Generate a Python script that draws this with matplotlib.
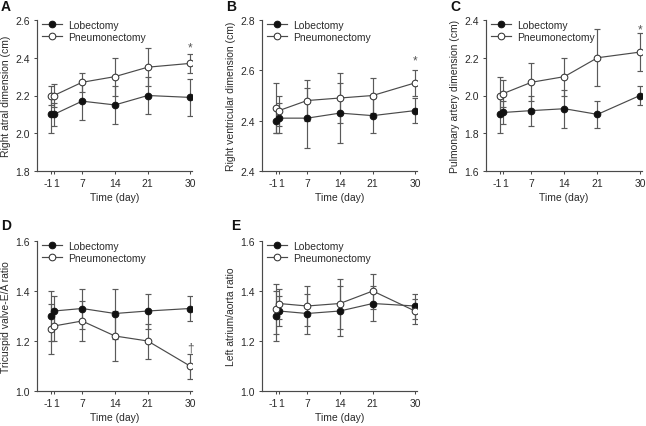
import numpy as np
import matplotlib
matplotlib.use("Agg")
import matplotlib.pyplot as plt
from matplotlib.transforms import ScaledTranslation

plt.rcParams["font.family"] = ["Liberation Sans", "DejaVu Sans"]
plt.rcParams["font.size"] = 7.5

days = [-1, 1, 7, 14, 21, 30]
day_labels = ["-1", "1", "7", "14", "21", "30"]

# A: right atrial dimension (cm)
ra_lob = [2.10, 2.10, 2.17, 2.15, 2.20, 2.19]
ra_lob_err = [0.10, 0.06, 0.10, 0.10, 0.10, 0.10]
ra_pn = [2.20, 2.20, 2.27, 2.30, 2.35, 2.37]
ra_pn_err = [0.05, 0.06, 0.05, 0.10, 0.10, 0.05]

# B: right ventricular dimension (cm)
rv_lob = [2.40, 2.41, 2.41, 2.43, 2.42, 2.44]
rv_lob_err = [0.05, 0.06, 0.12, 0.12, 0.07, 0.05]
rv_pn = [2.45, 2.44, 2.48, 2.49, 2.50, 2.55]
rv_pn_err = [0.10, 0.06, 0.08, 0.10, 0.07, 0.05]

# C: pulmonary artery dimension (cm)
pa_lob = [1.90, 1.91, 1.92, 1.93, 1.90, 2.00]
pa_lob_err = [0.10, 0.06, 0.08, 0.10, 0.07, 0.05]
pa_pn = [2.00, 2.01, 2.07, 2.10, 2.20, 2.23]
pa_pn_err = [0.10, 0.07, 0.10, 0.10, 0.15, 0.10]

# D: tricuspid valve E/A ratio
ea_lob = [1.30, 1.32, 1.33, 1.31, 1.32, 1.33]
ea_lob_err = [0.10, 0.06, 0.08, 0.10, 0.07, 0.05]
ea_pn = [1.25, 1.26, 1.28, 1.22, 1.20, 1.10]
ea_pn_err = [0.10, 0.06, 0.08, 0.10, 0.07, 0.05]

# E: left atrium/aorta ratio
la_lob = [1.30, 1.32, 1.31, 1.32, 1.35, 1.34]
la_lob_err = [0.10, 0.06, 0.08, 0.10, 0.07, 0.05]
la_pn = [1.33, 1.35, 1.34, 1.35, 1.40, 1.32]
la_pn_err = [0.10, 0.06, 0.08, 0.10, 0.07, 0.05]

text_color = "#2a2a2a"
line_color = "#4a4a4a"
err_color = "#5a5a5a"


# the original axis squeezes the pre-operative part (day < 1)
def squeeze(x):
    x = np.asarray(x, dtype=float)
    return np.where(x < 1, 1 + (x - 1) * 0.32, x)


def unsqueeze(y):
    y = np.asarray(y, dtype=float)
    return np.where(y < 1, 1 + (y - 1) / 0.32, y)


fig = plt.figure(figsize=(6.46, 4.27), dpi=100)
W, H = 646, 427


def axes_at(left, top, width, height):
    return fig.add_axes([left / W, (H - top - height) / H, width / W, height / H])


def panel(ax, ylabel, lob, lob_err, pn, pn_err, ylim, yticks, ytick_labels,
          mark=None, mark_y=None):
    ax.set_xscale("function", functions=(squeeze, unsqueeze))
    ax.errorbar(days, lob, yerr=lob_err, fmt="none", ecolor=err_color,
                elinewidth=0.85, capsize=2.3, capthick=0.85, zorder=1)
    ax.errorbar(days, pn, yerr=pn_err, fmt="none", ecolor=err_color,
                elinewidth=0.85, capsize=2.3, capthick=0.85, zorder=1)
    ax.plot(days, lob, "-o", color=line_color, lw=0.85, ms=4.8,
            mfc="#111111", mec="#111111", mew=0.7, label="Lobectomy", zorder=3)
    ax.plot(days, pn, "-o", color=line_color, lw=0.85, ms=4.8,
            mfc="white", mec="#333333", mew=0.75, label="Pneumonectomy", zorder=4)
    if mark:
        ax.text(30, mark_y, mark, ha="center", va="center", color="#555555",
                fontsize=8.5)

    ax.set_xlim(-10.3, 30.43)
    ax.set_ylim(*ylim)
    ax.set_xticks(days)
    ax.set_xticklabels(day_labels)
    ax.minorticks_off()
    ax.set_yticks(yticks)
    ax.set_yticklabels(ytick_labels)
    for side in ("top", "right"):
        ax.spines[side].set_visible(False)
    for side in ("left", "bottom"):
        ax.spines[side].set_color(line_color)
        ax.spines[side].set_linewidth(0.85)
    ax.tick_params(direction="out", length=2.5, width=0.75, color=line_color,
                   labelcolor=text_color, labelsize=7.5, pad=2.5)
    # "-1" and "1" sit side by side, reading as "-11"
    labels = ax.get_xticklabels()
    labels[0].set_ha("right")
    labels[0].set_transform(labels[0].get_transform()
                            + ScaledTranslation(2.2 / 100, 0, fig.dpi_scale_trans))
    labels[1].set_ha("left")
    labels[1].set_transform(labels[1].get_transform()
                            + ScaledTranslation(-0.6 / 100, 0, fig.dpi_scale_trans))
    ax.set_xlabel("Time (day)", color=text_color, labelpad=3)
    ax.set_ylabel(ylabel, color=text_color, labelpad=3)
    ax.legend(loc="upper left", bbox_to_anchor=(0.035, 1.0), frameon=False,
              borderaxespad=0, borderpad=0, handlelength=1.9, handletextpad=0.6,
              labelspacing=0.15, labelcolor=text_color, fontsize=7.5)


ax_a = axes_at(37, 21, 155, 151)
ax_b = axes_at(262, 21, 155, 151)
ax_c = axes_at(486, 21, 156, 151)
ax_d = axes_at(37, 242, 155, 150)
ax_e = axes_at(262, 242, 155, 150)

panel(ax_a, "Right atral dimension (cm)", ra_lob, ra_lob_err, ra_pn, ra_pn_err,
      (1.8, 2.6), [1.8, 2.0, 2.2, 2.4, 2.6], ["1.8", "2.0", "2.2", "2.4", "2.6"],
      mark="*", mark_y=2.455)
panel(ax_b, "Right ventricular dimension (cm)", rv_lob, rv_lob_err, rv_pn, rv_pn_err,
      (2.2, 2.8), [2.2, 2.4, 2.6, 2.8], ["2.4", "2.4", "2.6", "2.8"],
      mark="*", mark_y=2.64)
panel(ax_c, "Pulmonary artery dimension (cm)", pa_lob, pa_lob_err, pa_pn, pa_pn_err,
      (1.6, 2.4), [1.6, 1.8, 2.0, 2.2, 2.4], ["1.6", "1.8", "2.0", "2.2", "2.4"],
      mark="*", mark_y=2.35)
panel(ax_d, "Tricuspid valve-E/A ratio", ea_lob, ea_lob_err, ea_pn, ea_pn_err,
      (1.0, 1.6), [1.0, 1.2, 1.4, 1.6], ["1.0", "1.2", "1.4", "1.6"],
      mark="\u2020", mark_y=1.175)
panel(ax_e, "Left atrium/aorta ratio", la_lob, la_lob_err, la_pn, la_pn_err,
      (1.0, 1.6), [1.0, 1.2, 1.4, 1.6], ["1.0", "1.2", "1.4", "1.6"])

for letter, x, y in [("A", 1, 7), ("B", 226, 7), ("C", 450, 7), ("D", 1, 226), ("E", 231, 226)]:
    fig.text(x / W, 1 - y / H, letter, ha="left", va="center", fontsize=10,
             fontweight="bold", color="#111111")

fig.savefig("out.png", dpi=100)
